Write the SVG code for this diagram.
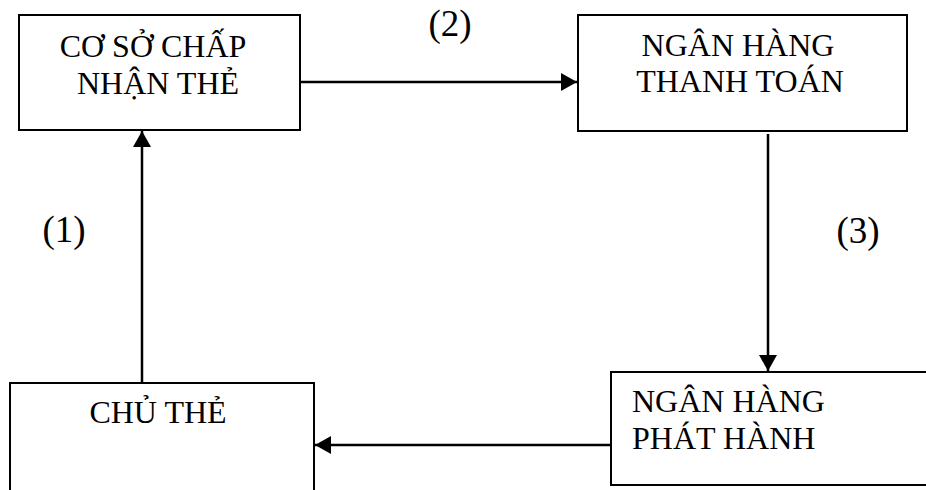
<svg xmlns="http://www.w3.org/2000/svg" width="926" height="490" viewBox="0 0 926 490">
  <style>
    .box { fill: #ffffff; stroke: #000000; stroke-width: 2; }
    .lbl { font-family: "Liberation Serif", "Times New Roman", serif; font-size: 32px; fill: #000000; }
    .num { font-family: "Liberation Serif", "Times New Roman", serif; font-size: 37px; fill: #000000; }
    .edge { stroke: #000000; stroke-width: 2.5; fill: none; marker-end: url(#head); }
  </style>
  <defs>
    <marker id="head" viewBox="0 0 16 18" refX="16" refY="9" markerWidth="16" markerHeight="18" markerUnits="userSpaceOnUse" orient="auto">
      <path d="M0,0 L16,9 L0,18 Z" fill="#000000"/>
    </marker>
  </defs>

  <rect width="926" height="490" fill="#ffffff"/>

  <g id="connectors">
    <line class="edge" x1="142" y1="384" x2="142" y2="131"/>
    <line class="edge" x1="300" y1="82" x2="577" y2="82"/>
    <line class="edge" x1="768" y1="134" x2="768" y2="371"/>
    <line class="edge" x1="611" y1="445" x2="315" y2="445"/>
  </g>

  <g id="node-co-so">
    <rect class="box" x="19" y="15" width="281" height="115"/>
    <text class="lbl" x="153" y="57" text-anchor="middle">CƠ SỞ CHẤP</text>
    <text class="lbl" x="158" y="94" text-anchor="middle">NHẬN THẺ</text>
  </g>

  <g id="node-ngan-hang-thanh-toan">
    <rect class="box" x="578" y="15" width="329" height="116"/>
    <text class="lbl" x="738" y="56" text-anchor="middle">NGÂN HÀNG</text>
    <text class="lbl" x="740" y="92" text-anchor="middle">THANH TOÁN</text>
  </g>

  <g id="node-chu-the">
    <rect class="box" x="10" y="383" width="304" height="120"/>
    <text class="lbl" x="158" y="423" text-anchor="middle">CHỦ THẺ</text>
  </g>

  <g id="node-ngan-hang-phat-hanh">
    <rect class="box" x="611" y="372" width="330" height="113"/>
    <text class="lbl" x="632" y="412">NGÂN HÀNG</text>
    <text class="lbl" x="632" y="449">PHÁT HÀNH</text>
  </g>

  <g id="step-labels">
    <text class="num" x="450" y="36" text-anchor="middle">(2)</text>
    <text class="num" x="64" y="242" text-anchor="middle">(1)</text>
    <text class="num" x="858" y="243" text-anchor="middle">(3)</text>
  </g>
</svg>
